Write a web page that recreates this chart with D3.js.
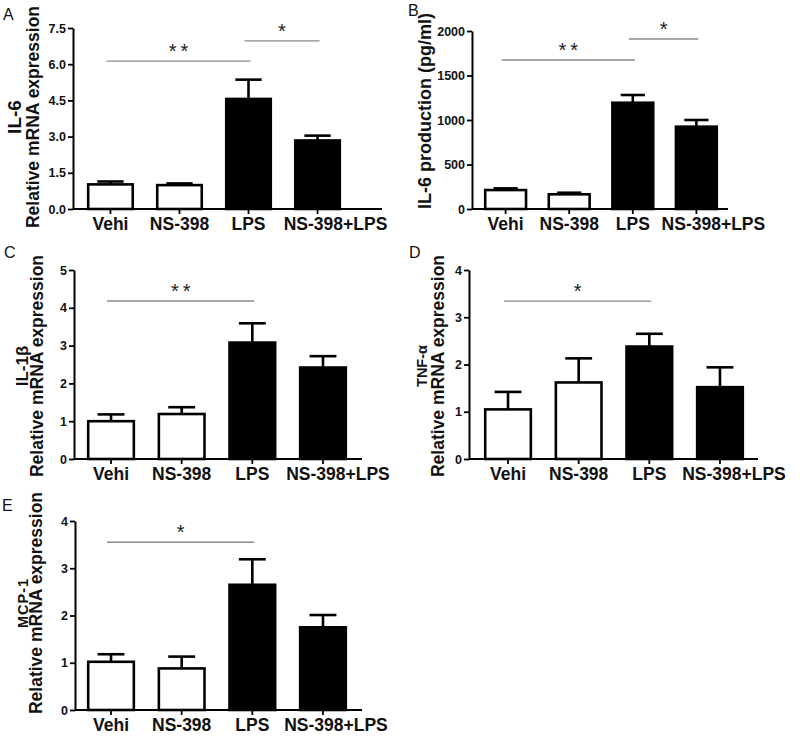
<!DOCTYPE html>
<html>
<head>
<meta charset="utf-8">
<script src="https://cdn.jsdelivr.net/npm/d3@7"></script>
<style>
  html, body { margin: 0; padding: 0; background: #fff; }
  svg { display: block; }
  text { font-family: "Liberation Sans", Arial, sans-serif; }
</style>
</head>
<body>
<svg id="chart" width="800" height="741"></svg>
<script>
// ---------------- DATA ----------------
const categories = ["Vehi", "NS-398", "LPS", "NS-398+LPS"];
const barFills = ["#ffffff", "#ffffff", "#000000", "#000000"];

const il6mRNA      = [1.02, 0.99, 4.56, 2.84];
const il6mRNAErr   = [0.12, 0.07, 0.80, 0.20];
const il6Protein   = [213, 165, 1194, 925];
const il6ProteinErr= [19, 18, 87, 75];
const il1bMRNA     = [1.00, 1.19, 3.08, 2.42];
const il1bMRNAErr  = [0.18, 0.18, 0.51, 0.30];
const tnfaMRNA     = [1.05, 1.62, 2.38, 1.52];
const tnfaMRNAErr  = [0.37, 0.51, 0.27, 0.42];
const mcp1MRNA     = [1.02, 0.88, 2.65, 1.75];
const mcp1MRNAErr  = [0.16, 0.25, 0.54, 0.26];

const ticksA = [0, 1.5, 3.0, 4.5, 6.0, 7.5];
const ticksB = [0, 500, 1000, 1500, 2000];
const ticksC = [0, 1, 2, 3, 4, 5];
const ticksD = [0, 1, 2, 3, 4];
const ticksE = [0, 1, 2, 3, 4];

const sigA = [{from: "Vehi", to: "LPS", y: 6.13, label: "**"},
              {from: "LPS", to: "NS-398+LPS", y: 6.97, label: "*"}];
const sigB = [{from: "Vehi", to: "LPS", y: 1674, label: "**"},
              {from: "LPS", to: "NS-398+LPS", y: 1910, label: "*"}];
const sigC = [{from: "Vehi", to: "LPS", y: 4.18, label: "**"}];
const sigD = [{from: "Vehi", to: "LPS", y: 3.34, label: "*"}];
const sigE = [{from: "Vehi", to: "LPS", y: 3.55, label: "*"}];

// ---------------- LAYOUT ----------------
const panels = [
  {letter: "A", lx: 3, ly: 20, values: il6mRNA, errors: il6mRNAErr, ticks: ticksA, fmt: ".1f", sig: sigA,
   axisX: 73, y0: 209, yTop: 28, axisEnd: 382, bandL: 87, bandR: 341, lastShift: 18,
   ylabels: [{t: "IL-6", x: 21, size: 19}, {t: "Relative mRNA expression", x: 39, size: 17.5}], ylabelY: 117},
  {letter: "B", lx: 408, ly: 16, values: il6Protein, errors: il6ProteinErr, ticks: ticksB, fmt: "d", sig: sigB,
   axisX: 472, y0: 209, yTop: 31, axisEnd: 728, bandL: 484, bandR: 718, lastShift: 17,
   ylabels: [{t: "IL-6 production (pg/ml)", x: 431, size: 18}], ylabelY: 111},
  {letter: "C", lx: 4, ly: 258, values: il1bMRNA, errors: il1bMRNAErr, ticks: ticksC, fmt: "d", sig: sigC,
   axisX: 74, y0: 459, yTop: 270, axisEnd: 362, bandL: 87, bandR: 347, lastShift: 15,
   ylabels: [{t: "IL-1β", x: 28, size: 17}, {t: "Relative mRNA expression", x: 43, size: 17.5}], ylabelY: 366},
  {letter: "D", lx: 409, ly: 258, values: tnfaMRNA, errors: tnfaMRNAErr, ticks: ticksD, fmt: "d", sig: sigD,
   axisX: 469, y0: 459, yTop: 270, axisEnd: 758, bandL: 484, bandR: 744, lastShift: 14,
   ylabels: [{t: "TNF-α", x: 427, size: 14.5}, {t: "Relative mRNA expression", x: 444, size: 17.5}], ylabelY: 366},
  {letter: "E", lx: 2, ly: 511, values: mcp1MRNA, errors: mcp1MRNAErr, ticks: ticksE, fmt: "d", sig: sigE,
   axisX: 75, y0: 710, yTop: 521, axisEnd: 362, bandL: 87, bandR: 347, lastShift: 13,
   ylabels: [{t: "MCP-1", x: 28, size: 14.5, ls: 1}, {t: "Relative mRNA expression", x: 42, size: 17.5}], ylabelY: 603}
];

const svg = d3.select("#chart");

panels.forEach(p => {
  const g = svg.append("g");
  const x = d3.scaleBand().domain(categories).range([p.bandL, p.bandR]).paddingInner(0.32).paddingOuter(0);
  const y = d3.scaleLinear().domain([0, p.ticks[p.ticks.length - 1]]).range([p.y0, p.yTop]);
  const bw = x.bandwidth();

  // panel letter
  g.append("text").attr("x", p.lx).attr("y", p.ly).style("font-size", "16px").attr("fill", "#111").text(p.letter);

  // y labels
  p.ylabels.forEach(l => {
    g.append("text")
      .attr("transform", `translate(${l.x},${p.ylabelY}) rotate(-90)`)
      .attr("text-anchor", "middle")
      .style("font-size", l.size + "px").style("font-weight", "bold")
      .attr("letter-spacing", l.ls || 0)
      .attr("fill", "#111")
      .text(l.t);
  });

  const data = categories.map((c, i) => ({c, v: p.values[i], e: p.errors[i], fill: barFills[i]}));

  // error bars
  const eg = g.append("g");
  data.forEach(d => {
    const cx = x(d.c) + bw / 2;
    eg.append("line").attr("x1", cx).attr("x2", cx).attr("y1", y(d.v)).attr("y2", y(d.v + d.e))
      .attr("stroke", "#000").attr("stroke-width", 2.6);
    eg.append("line").attr("x1", cx - bw * 0.28).attr("x2", cx + bw * 0.28)
      .attr("y1", y(d.v + d.e)).attr("y2", y(d.v + d.e))
      .attr("stroke", "#000").attr("stroke-width", 2.6);
  });

  // bars
  g.append("g").selectAll("rect").data(data).join("rect")
    .attr("x", d => x(d.c) + 1.2)
    .attr("width", bw - 2.4)
    .attr("y", d => y(d.v))
    .attr("height", d => y(0) - y(d.v))
    .attr("fill", d => d.fill)
    .attr("stroke", "#000").attr("stroke-width", 2.6);

  // y axis
  const yAxis = d3.axisLeft(y).tickValues(p.ticks).tickSize(5).tickSizeOuter(0).tickPadding(2)
    .tickFormat(d3.format(p.fmt));
  const ya = g.append("g").attr("transform", `translate(${p.axisX},0)`).call(yAxis);
  ya.select(".domain").attr("stroke-width", 2).attr("stroke", "#000");
  ya.selectAll(".tick line").attr("stroke-width", 1.8).attr("stroke", "#000");
  ya.selectAll(".tick text").style("font-size", "12.5px").style("font-weight", "bold").attr("fill", "#111");

  // x axis
  const xAxis = d3.axisBottom(x).tickSize(5).tickSizeOuter(0).tickPadding(4);
  const xa = g.append("g").attr("transform", `translate(0,${p.y0})`).call(xAxis);
  xa.select(".domain").remove();
  xa.append("line").attr("x1", p.axisX).attr("x2", p.axisEnd).attr("y1", 0).attr("y2", 0)
    .attr("stroke", "#000").attr("stroke-width", 2);
  xa.selectAll(".tick line").attr("stroke-width", 1.8).attr("stroke", "#000");
  xa.selectAll(".tick text").style("font-size", "17.5px").style("font-weight", "bold").attr("fill", "#111")
    .attr("dx", d => d === categories[categories.length - 1] ? p.lastShift : 0);

  // significance annotations
  p.sig.forEach(s => {
    const x1 = x(s.from) + bw / 2 - 4, x2 = x(s.to) + bw / 2 + 2;
    const yy = y(s.y);
    g.append("line").attr("x1", x1).attr("x2", x2).attr("y1", yy).attr("y2", yy)
      .attr("stroke", "#8a8a8a").attr("stroke-width", 1.3);
    g.append("text").attr("x", (x1 + x2) / 2 + (s.label.length > 1 ? 2 : 0)).attr("y", yy - 3)
      .attr("text-anchor", "middle").style("font-size", "20px").attr("fill", "#222")
      .attr("letter-spacing", s.label.length > 1 ? 4 : 0)
      .text(s.label);
  });
});
</script>
</body>
</html>
